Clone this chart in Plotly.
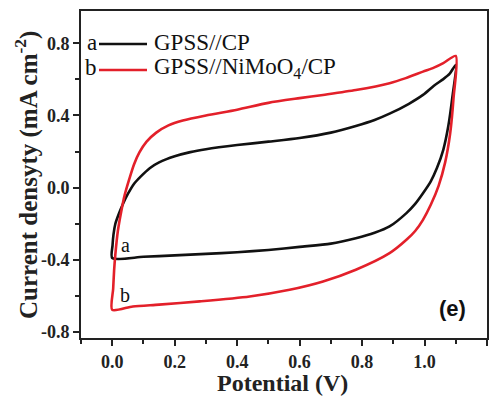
import plotly.graph_objects as go

# ---- data ----
a_x = [0.0, 0.1, 0.2, 0.3, 0.4, 0.5, 0.6, 0.7, 0.78, 0.84, 0.888, 0.942, 0.97, 0.995, 1.02, 1.04, 1.06, 1.076, 1.089, 1.1,
       1.08, 1.059, 1.03, 0.995, 0.95, 0.888, 0.84, 0.78, 0.7, 0.6, 0.5, 0.4, 0.3, 0.25, 0.2, 0.15, 0.12, 0.09, 0.07, 0.05, 0.035, 0.02, 0.01, 0.004, 0.001, 0.0]
a_y = [-0.39, -0.383, -0.375, -0.367, -0.358, -0.345, -0.328, -0.31, -0.28, -0.25, -0.215, -0.141, -0.09, -0.031, 0.035, 0.11, 0.21, 0.34, 0.5, 0.68,
       0.63, 0.6, 0.565, 0.514, 0.465, 0.41, 0.375, 0.342, 0.305, 0.275, 0.255, 0.236, 0.213, 0.197, 0.174, 0.14, 0.108, 0.06, 0.022, -0.035, -0.088, -0.15, -0.2, -0.26, -0.32, -0.39]

b_x = [0.0, 0.066, 0.15, 0.28, 0.44, 0.568, 0.675, 0.78, 0.888, 0.942, 0.97, 0.995, 1.02, 1.045, 1.066, 1.082, 1.093, 1.1,
       1.06, 1.03, 0.995, 0.94, 0.888, 0.78, 0.675, 0.6, 0.5, 0.4, 0.3, 0.226, 0.18, 0.141, 0.11, 0.087, 0.07, 0.055, 0.04, 0.029, 0.018, 0.01, 0.006, 0.003, 0.0]
b_y = [-0.677, -0.658, -0.648, -0.63, -0.603, -0.566, -0.52, -0.455, -0.363, -0.289, -0.24, -0.178, -0.095, 0.01, 0.14, 0.3, 0.5, 0.73,
       0.69, 0.665, 0.643, 0.607, 0.579, 0.541, 0.514, 0.496, 0.47, 0.432, 0.4, 0.372, 0.345, 0.305, 0.255, 0.195, 0.13, 0.05, -0.04, -0.13, -0.24, -0.37, -0.46, -0.56, -0.677]

x_tickvals = [0.0, 0.2, 0.4, 0.6, 0.8, 1.0, 1.2]
x_ticktext = ["0.0", "0.2", "0.4", "0.6", "0.8", "1.0", "1.2"]
y_tickvals = [-0.8, -0.4, 0.0, 0.4, 0.8]
y_ticktext = ["-0.8", "-0.4", "0.0", "0.4", "0.8"]

series_names = ["GPSS//CP", "GPSS//NiMoO<sub>4</sub>/CP"]
series_letters = ["a", "b"]
colors = ["#111111", "#e3202a"]

W, H = 498, 396
L, R, T, B = 81, 11, 11, 58
pw, ph = W - L - R, H - T - B

def px2paper_x(px):
    return (px - L) / pw

def py2paper_y(py):
    return (H - B - py) / ph

serif = "Liberation Serif"

fig = go.Figure()
for xs, ys, c, n in [(a_x, a_y, colors[0], series_names[0]), (b_x, b_y, colors[1], series_names[1])]:
    fig.add_trace(go.Scatter(x=xs, y=ys, mode="lines", name=n,
                             line=dict(color=c, width=2.6, shape="spline", smoothing=0.7),
                             showlegend=False))

axis_common = dict(showline=True, linecolor="#222222", linewidth=2, mirror=True,
                   ticks="outside", ticklen=6, tickwidth=2, tickcolor="#222222",
                   showgrid=False, zeroline=False,
                   tickfont=dict(family=serif, size=18, color="#222222", weight="bold"))

fig.update_xaxes(range=[-0.1, 1.2], tickvals=x_tickvals, ticktext=x_ticktext,
                 minor=dict(ticks="outside", ticklen=4, tickwidth=2, tickcolor="#222222", dtick=0.1, tick0=0, showgrid=False),
                 **axis_common)
fig.update_yaxes(range=[-0.833, 0.979], tickvals=y_tickvals, ticktext=y_ticktext,
                 minor=dict(ticks="outside", ticklen=4, tickwidth=2, tickcolor="#222222", dtick=0.2, tick0=0, showgrid=False),
                 **axis_common)

annotations = []
# axis titles
annotations.append(dict(text="<b>Potential (V)</b>", xref="paper", yref="paper",
                        x=px2paper_x(282), y=py2paper_y(383), xanchor="center", yanchor="middle",
                        showarrow=False, font=dict(family=serif, size=24, color="#222222")))
annotations.append(dict(text="<b>Current densyty (mA cm<sup>-2</sup>)</b>", xref="paper", yref="paper",
                        x=px2paper_x(27), y=py2paper_y(175), xanchor="center", yanchor="middle", textangle=-90,
                        showarrow=False, font=dict(family=serif, size=25, color="#222222")))
# panel label
annotations.append(dict(text="<b>(e)</b>", xref="paper", yref="paper",
                        x=px2paper_x(452), y=py2paper_y(308), xanchor="center", yanchor="middle",
                        showarrow=False, font=dict(family="Liberation Sans", size=22, color="#111111")))
# legend (manual)
shapes = []
row_y = [44, 70]
for i in range(2):
    annotations.append(dict(text=series_letters[i], xref="paper", yref="paper",
                            x=px2paper_x(99), y=py2paper_y(row_y[i] - 2), xanchor="right", yanchor="middle",
                            showarrow=False, font=dict(family=serif, size=23, color="#111111")))
    shapes.append(dict(type="line", xref="paper", yref="paper",
                       x0=px2paper_x(99), x1=px2paper_x(147), y0=py2paper_y(row_y[i]), y1=py2paper_y(row_y[i]),
                       line=dict(color=colors[i], width=2.6)))
    annotations.append(dict(text=series_names[i], xref="paper", yref="paper",
                            x=px2paper_x(152), y=py2paper_y(row_y[i] - 2), xanchor="left", yanchor="middle",
                            showarrow=False, font=dict(family=serif, size=23, color="#111111")))
# curve labels
annotations.append(dict(text="a", x=0.042, y=-0.315, xanchor="center", yanchor="middle", showarrow=False,
                        font=dict(family=serif, size=20, color="#111111")))
annotations.append(dict(text="b", x=0.04, y=-0.595, xanchor="center", yanchor="middle", showarrow=False,
                        font=dict(family=serif, size=20, color="#111111")))

fig.update_layout(width=W, height=H, margin=dict(l=L, r=R, t=T, b=B, autoexpand=False),
                  paper_bgcolor="white", plot_bgcolor="white",
                  annotations=annotations, shapes=shapes, showlegend=False)

fig.write_html("out.html")
